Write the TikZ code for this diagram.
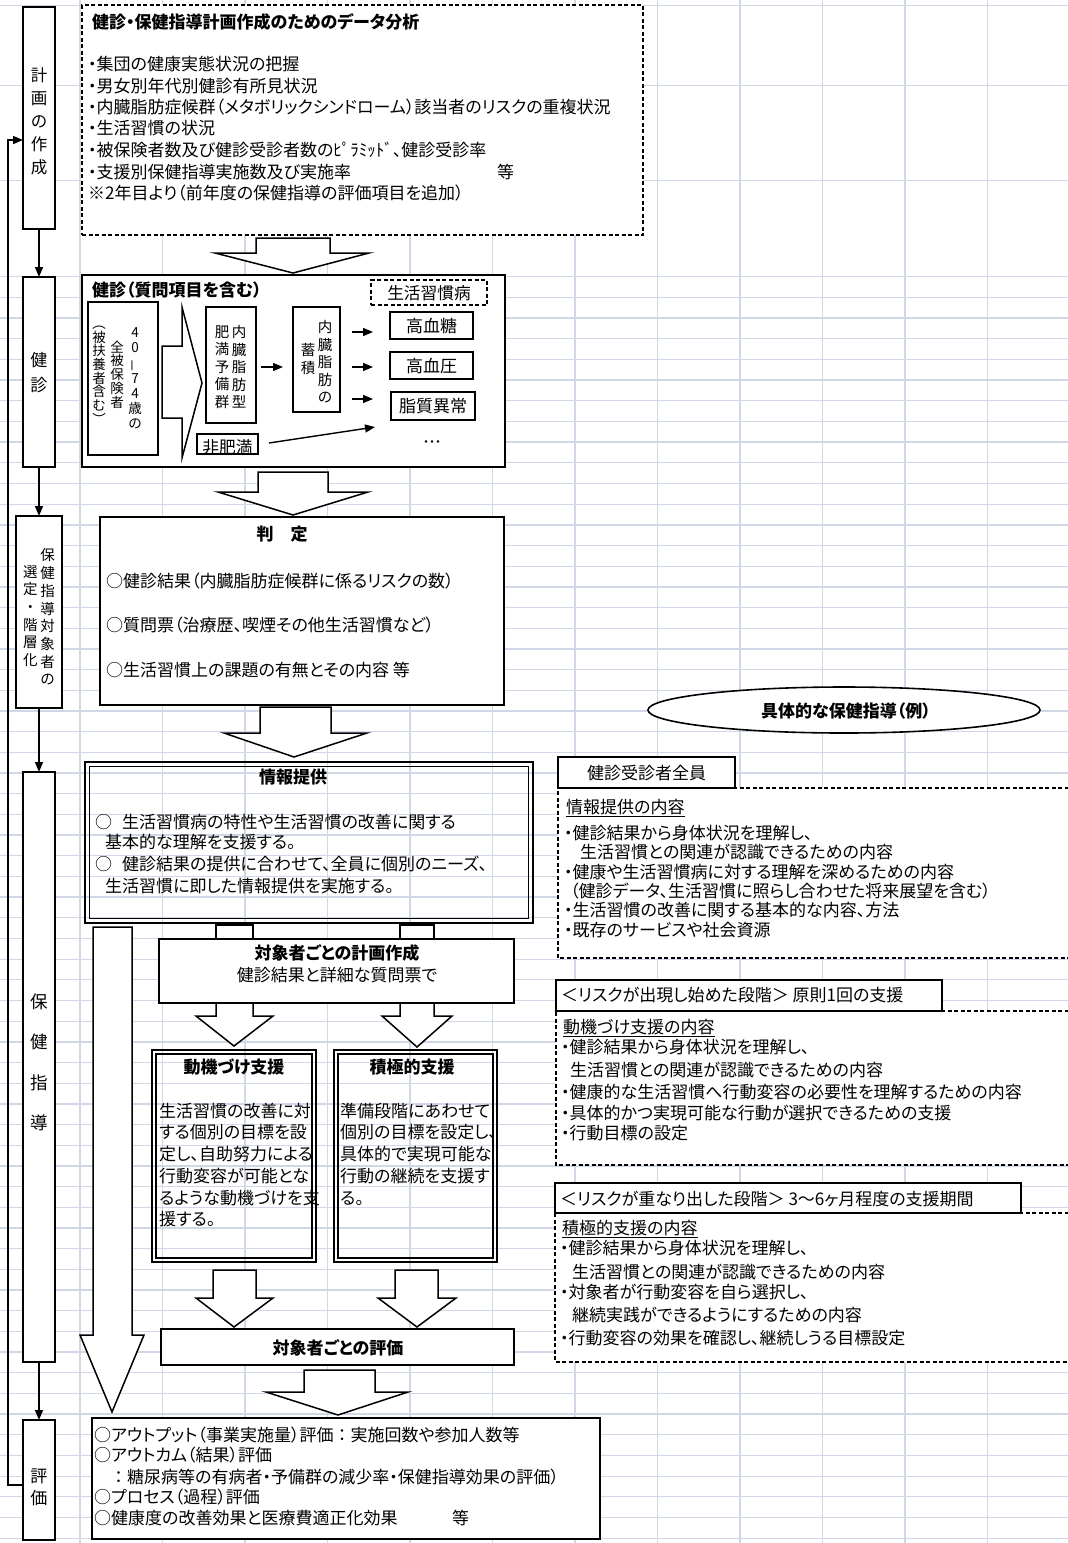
\documentclass[tikz,border=0pt]{standalone}
\usepackage{fontspec}
\usepackage{graphicx}
\setmainfont{Noto Sans CJK JP}[Script=CJK, RawFeature=+palt]
\usetikzlibrary{arrows.meta,calc,shapes.geometric}
\definecolor{gridc}{RGB}{208,216,232}
\newcommand\jf{\fontsize{17}{21}\selectfont}
\newcommand\jfb{\fontsize{17}{21}\selectfont\bfseries}
\newcommand\fullw[1]{{\addfontfeature{RawFeature=-palt}#1}}
\newcommand\rbox[6]{\node[#1, inner sep=0pt, outer sep=0pt, minimum width={(#5-#3)*1pt}, minimum height={(#6-#4)*1pt}] (#2) at ({(#3+#5)/2},{(#4+#6)/2}) {};}
\begin{document}
\begin{tikzpicture}[x=1pt,y=-1pt,
  box/.style={draw, line width=1.6pt, fill=white},
  obox/.style={draw, line width=2.6pt},
  dbox/.style={draw, line width=1.6pt, dash pattern=on 4pt off 2.5pt, fill=white},
  dline/.style={line width=1.6pt, dash pattern=on 4pt off 2.5pt},
  barrow/.style={draw, line width=1.5pt, fill=white, line join=miter},
  conn/.style={-{Triangle[length=10pt,width=8pt]}, line width=1.4pt},
  txt/.style={anchor=west, inner sep=0pt, text height=15pt, text depth=2pt, font=\jf},
  btxt/.style={anchor=center, inner sep=0pt, text height=15pt, text depth=2pt, font=\jfb},
  ctxt/.style={anchor=center, inner sep=0pt, text height=15pt, text depth=2pt, font=\jf},
  vtxt/.style={anchor=center, inner sep=0pt, align=center},
]
\useasboundingbox (0,0) rectangle (1068,1543);
\fill[white] (0,0) rectangle (1068,1543);
% spreadsheet grid
\foreach \k in {0,...,11} \draw[gridc, line width=1.3pt] ({80+82.5*\k},0) -- ({80+82.5*\k},1543);
\foreach \yy in {5.7,85.7,180.7} \draw[gridc, line width=1.3pt] (0,\yy) -- (1068,\yy);
\foreach \k in {0,...,61} \draw[gridc, line width=1.3pt] (0,{276.7+20.68*\k}) -- (1068,{276.7+20.68*\k});

% ---------- stage column ----------
\rbox{box}{S1}{23}{7}{55}{229}
\rbox{box}{S2}{23}{277}{55}{467}
\rbox{box}{S3}{16}{516}{62}{708}
\rbox{box}{S4}{23}{772}{55}{1362}
\rbox{box}{S5}{23}{1420}{55}{1540}
\node[vtxt, font={\fontsize{16.5}{23}\selectfont}] (S1t) at (39,121) {計\\画\\の\\作\\成};
\node[vtxt, font={\fontsize{17}{25}\selectfont}] (S2t) at (39,372.5) {健\\診};
\node[vtxt, font={\fontsize{14.5}{17.7}\selectfont}] (S3a) at (47.5,617) {保\\健\\指\\導\\対\\象\\者\\の};
\node[vtxt, font={\fontsize{14.5}{17.6}\selectfont}] (S3b) at (30.5,616) {選\\定\\・\\階\\層\\化};
\node[vtxt, font={\fontsize{17.5}{40.3}\selectfont}] (S4t) at (39,1062.5) {保\\健\\指\\導};
\node[vtxt, font={\fontsize{17}{22}\selectfont}] (S5t) at (39,1487) {評\\価};
\draw[conn] (S1) -- (S2);
\draw[conn] (S2) -- (S3);
\draw[conn] (S3) -- (S4);
\draw[conn] (S4) -- (S5);
\coordinate (fbL) at (8,1485);
\coordinate (fbU) at (8,140);
\draw[conn] (S5.west |- fbL) -- (fbL) -- (fbU) -- (S1.west |- fbU);

% ---------- data analysis ----------
\rbox{dbox}{D1}{82}{5}{643}{235}
\node[txt, font=\jfb] (D1h) at (92,22) {健診・保健指導計画作成のためのデータ分析};
\node[txt] (D1a) at (88,64) {・集団の健康実態状況の把握};
\node[txt] (D1b) at (88,86) {・男女別年代別健診有所見状況};
\node[txt] (D1c) at (88,107) {・内臓脂肪症候群（メタボリックシンドローム）該当者のリスクの重複状況};
\node[txt] (D1d) at (88,128) {・生活習慣の状況};
\node[txt] (D1e) at (88,150) {・被保険者数及び健診受診者数のﾋﾟﾗﾐｯﾄﾞ、健診受診率};
\node[txt] (D1f) at (88,172) {・支援別保健指導実施数及び実施率};
\node[txt] (D1g) at (497,172) {等};
\node[txt] (D1i) at (88,193) {※2年目より（前年度の保健指導の評価項目を追加）};

\draw[barrow] (256,238) -- (330,238) -- (330,253) -- (369,253) -- (293,273) -- (215,253) -- (256,253) -- cycle;

% ---------- kenshin ----------
\rbox{box}{K}{82}{275}{505}{467}
\node[txt, font=\jfb] (Kt) at (92,290) {健診（質問項目を含む）};
\rbox{dbox}{LD}{371}{280}{487}{305}
\node[ctxt, font={\fontsize{16.7}{20}\selectfont}] (LDt) at (LD) {生活習慣病};
\rbox{box}{TG}{88}{302}{158}{455}
\node[vtxt, font={\fontsize{13.5}{15.2}\selectfont}] (TGa) at (135,378.5) {4\\0\\\rotatebox[origin=c]{90}{－}\\7\\4\\歳\\の};
\node[vtxt, font={\fontsize{13.5}{13.75}\selectfont}] (TGb) at (117,374.5) {全\\被\\保\\険\\者};
\node[vtxt, font={\fontsize{13.5}{13.7}\selectfont}] (TGc) at (99,375) {︵\\被\\扶\\養\\者\\含\\む\\︶};
\draw[barrow] (162,346) -- (182,346) -- (182,307) -- (202,383) -- (182,458) -- (182,418) -- (162,418) -- cycle;
\rbox{box}{NZ}{206}{307}{256}{423}
\node[vtxt, font={\fontsize{14.5}{17.5}\selectfont}] (NZa) at (239,367) {内\\臓\\脂\\肪\\型};
\node[vtxt, font={\fontsize{14.5}{17.5}\selectfont}] (NZb) at (222,367) {肥\\満\\予\\備\\群};
\rbox{box}{CK}{293}{307}{340}{412}
\node[vtxt, font={\fontsize{14.5}{17.5}\selectfont}] (CKa) at (325,362) {内\\臓\\脂\\肪\\の};
\node[vtxt, font={\fontsize{14.5}{17.5}\selectfont}] (CKb) at (308,359) {蓄\\積};
\rbox{box}{KT}{390}{312}{473}{339}
\rbox{box}{KA}{390}{352}{473}{379}
\rbox{box}{SH}{391}{392}{475}{420}
\node[ctxt, font={\fontsize{17}{20}\selectfont}] (KTt) at (KT) {高血糖};
\node[ctxt, font={\fontsize{17}{20}\selectfont}] (KAt) at (KA) {高血圧};
\node[ctxt, font={\fontsize{17}{20}\selectfont}] (SHt) at (SH) {脂質異常};
\node[ctxt, font={\fontsize{12}{14}\selectfont}] (dots) at (432,440) {・・・};
\rbox{box}{HH}{197}{434}{258}{454}
\node[ctxt, font={\fontsize{16.7}{20}\selectfont}] (HHt) at (227.5,447) {非肥満};
\draw[conn] ($(NZ.east)+(5,2)$) -- ++(22,0);
\draw[conn] ($(KT.west)+(-38,6.5)$) -- ++(21,0);
\draw[conn] ($(KA.west)+(-38,1.5)$) -- ++(21,0);
\draw[conn] ($(SH.west)+(-39,-7)$) -- ++(21,0);
\draw[conn] ($(HH.east)+(11,-1)$) -- ($(SH.west)+(-16,21)$);

\draw[barrow] (258,472) -- (328,472) -- (328,492) -- (368,492) -- (293,515) -- (218,492) -- (258,492) -- cycle;

% ---------- hantei ----------
\rbox{box}{HT}{100}{517}{504}{705}
\node[btxt] (HTt) at (282,534) {判　定};
\node[txt] (HTa) at (106,581) {○健診結果（内臓脂肪症候群に係るリスクの数）};
\node[txt] (HTb) at (106,625) {○質問票（治療歴、喫煙その他生活習慣など）};
\node[txt] (HTc) at (106,670) {○生活習慣上の課題の有無とその内容 等};

\draw[barrow] (260,707) -- (331,707) -- (331,733) -- (367,733) -- (294,757) -- (224,733) -- (260,733) -- cycle;

% ---------- joho teikyo ----------
\rbox{obox}{JT}{85}{762}{533}{923}
\draw[line width=1.1pt] ($(JT.north west)+(4.5,4.5)$) rectangle ($(JT.south east)+(-4.5,-4.5)$);
\node[btxt] (JTt) at (293,777) {情報提供};
\node[txt] (JTa0) at (95,822) {○};
\node[txt] (JTa) at (122,822) {生活習慣病の特性や生活習慣の改善に関する};
\node[txt] (JTb) at (105,842) {基本的な理解を支援する。};
\node[txt] (JTc0) at (95,864) {○};
\node[txt] (JTc) at (122,864) {健診結果の提供に合わせて、全員に個別のニーズ、};
\node[txt] (JTd) at (105,886) {生活習慣に即した情報提供を実施する。};

% tall arrow
\draw[barrow] (93,927) -- (132,927) -- (132,1335) -- (144,1335) -- (112,1412) -- (80,1335) -- (93,1335) -- cycle;

% stubs and plan box
\draw[barrow] (216,925) rectangle (253,945);
\draw[barrow] (400,925) rectangle (434,945);
\draw[barrow] (216,1003) -- (253,1003) -- (253,1016) -- (273,1016) -- (234,1046) -- (196,1016) -- (216,1016) -- cycle;
\draw[barrow] (400,1003) -- (434,1003) -- (434,1016) -- (452,1016) -- (417,1047) -- (382,1016) -- (400,1016) -- cycle;
\rbox{box}{KS}{159}{939}{514}{1003}
\node[btxt] (KSt) at (337,953) {対象者ごとの計画作成};
\node[ctxt] (KSs) at (337,975) {健診結果と詳細な質問票で};

% doki / sekkyoku
\rbox{obox}{DK}{152}{1050}{316}{1262}
\draw[line width=1.1pt] ($(DK.north west)+(4,4)$) rectangle ($(DK.south east)+(-4,-4)$);
\rbox{obox}{SK}{334}{1050}{497}{1262}
\draw[line width=1.1pt] ($(SK.north west)+(4,4)$) rectangle ($(SK.south east)+(-4,-4)$);
\node[btxt] (DKt) at (234,1067) {動機づけ支援};
\node[btxt] (SKt) at (412,1067) {積極的支援};
\node[txt] (DK1) at (159,1111) {生活習慣の改善に対};
\node[txt] (DK2) at (159,1132) {する個別の目標を設};
\node[txt] (DK3) at (159,1154) {定し、自助努力による};
\node[txt] (DK4) at (159,1176) {行動変容が可能とな};
\node[txt] (DK5) at (159,1198) {るような動機づけを支};
\node[txt] (DK6) at (159,1219) {援する。};
\node[txt] (SK1) at (340,1111) {準備段階にあわせて};
\node[txt] (SK2) at (340,1132) {個別の目標を設定し、};
\node[txt] (SK3) at (340,1154) {具体的で実現可能な};
\node[txt] (SK4) at (340,1176) {行動の継続を支援す};
\node[txt] (SK5) at (340,1198) {る。};

\draw[barrow] (213,1270) -- (256,1270) -- (256,1298) -- (273,1298) -- (234,1327) -- (196,1298) -- (213,1298) -- cycle;
\draw[barrow] (395,1270) -- (438,1270) -- (438,1298) -- (456,1298) -- (417,1327) -- (378,1298) -- (395,1298) -- cycle;

\rbox{box}{HK}{161}{1329}{514}{1365}
\node[btxt] (HKt) at (338,1348) {対象者ごとの評価};
\draw[barrow] (304,1370) -- (375,1370) -- (375,1392) -- (408,1392) -- (338,1415) -- (266,1392) -- (304,1392) -- cycle;

% bottom evaluation
\rbox{box}{BT}{92}{1418}{600}{1539}
\node[txt] (BT1) at (94,1435) {○アウトプット（事業実施量）評価\fullw{：}実施回数や参加人数等};
\node[txt] (BT2) at (94,1455) {○アウトカム（結果）評価};
\node[txt] (BT3) at (110,1477) {\fullw{：}糖尿病等の有病者・予備群の減少率・保健指導効果の評価）};
\node[txt] (BT4) at (94,1497) {○プロセス（過程）評価};
\node[txt] (BT5) at (94,1518) {○健康度の改善効果と医療費適正化効果};
\node[txt] (BT6) at (452,1518) {等};

% ---------- right panel ----------
\node[draw, ellipse, line width=1.6pt, fill=white, minimum width=392pt, minimum height=46pt, inner sep=0pt] (EL) at (844,710) {};
\node[btxt] (ELt) at (846,711) {具体的な保健指導（例）};

\fill[white] (558,788) rectangle (1068,958);
\draw[dline] (1075,788) -- (558,788) -- (558,958) -- (1075,958);
\rbox{box}{R1}{558}{757}{735}{788}
\node[ctxt] (R1t) at (R1) {健診受診者全員};
\node[txt] (R1h) at (566,807) {情報提供の内容};
\draw[line width=0.9pt] ($(R1h.base west)+(0,2.5)$) -- ($(R1h.base east)+(0,2.5)$);
\node[txt] (R1a) at (564,833) {・健診結果から身体状況を理解し、};
\node[txt] (R1b) at (580,852) {生活習慣との関連が認識できるための内容};
\node[txt] (R1c) at (564,872) {・健康や生活習慣病に対する理解を深めるための内容};
\node[txt] (R1d) at (570,891) {（健診データ、生活習慣に照らし合わせた将来展望を含む）};
\node[txt] (R1e) at (564,910) {・生活習慣の改善に関する基本的な内容、方法};
\node[txt] (R1f) at (564,930) {・既存のサービスや社会資源};

\fill[white] (556,1011) rectangle (1068,1165);
\draw[dline] (1075,1011) -- (556,1011) -- (556,1165) -- (1075,1165);
\rbox{box}{R2}{556}{980}{942}{1011}
\node[txt] (R2t) at (561,995) {＜リスクが出現し始めた段階＞ 原則1回の支援};
\node[txt] (R2h) at (563,1027) {動機づけ支援の内容};
\draw[line width=0.9pt] ($(R2h.base west)+(0,2.5)$) -- ($(R2h.base east)+(0,2.5)$);
\node[txt] (R2a) at (561,1047) {・健診結果から身体状況を理解し、};
\node[txt] (R2b) at (570,1070) {生活習慣との関連が認識できるための内容};
\node[txt] (R2c) at (561,1092) {・健康的な生活習慣へ行動変容の必要性を理解するための内容};
\node[txt] (R2d) at (561,1113) {・具体的かつ実現可能な行動が選択できるための支援};
\node[txt] (R2e) at (561,1133) {・行動目標の設定};

\fill[white] (555,1213) rectangle (1068,1362);
\draw[dline] (1075,1213) -- (555,1213) -- (555,1362) -- (1075,1362);
\rbox{box}{R3}{555}{1183}{1021}{1213}
\node[txt] (R3t) at (560,1199) {＜リスクが重なり出した段階＞ 3～6ヶ月程度の支援期間};
\node[txt] (R3h) at (562,1228) {積極的支援の内容};
\draw[line width=0.9pt] ($(R3h.base west)+(0,2.5)$) -- ($(R3h.base east)+(0,2.5)$);
\node[txt] (R3a) at (560,1248) {・健診結果から身体状況を理解し、};
\node[txt] (R3b) at (572,1272) {生活習慣との関連が認識できるための内容};
\node[txt] (R3c) at (560,1292) {・対象者が行動変容を自ら選択し、};
\node[txt] (R3d) at (572,1315) {継続実践ができるようにするための内容};
\node[txt] (R3e) at (560,1338) {・行動変容の効果を確認し、継続しうる目標設定};
\end{tikzpicture}
\end{document}
